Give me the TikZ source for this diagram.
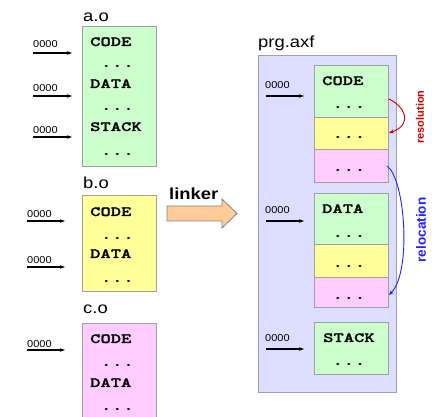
\documentclass[tikz,border=0pt]{standalone}
\usepackage{fontspec}
\usetikzlibrary{arrows.meta}

\newfontfamily\lblfont[FakeStretch=1.15]{Liberation Sans}
\newfontfamily\numfont[FakeStretch=1.1]{Liberation Sans}
\newfontfamily\codefont[FakeStretch=1.4, FakeBold=1.5]{lmmonolt10-bold.otf}
\newfontfamily\ellipsisfont[FakeStretch=1.4]{lmmonolt10-bold.otf}
\newfontfamily\tagfont{Liberation Sans}

\definecolor{segcode}{HTML}{CCFFCC}
\definecolor{segyel}{HTML}{FFFF99}
\definecolor{segpink}{HTML}{FFCCFF}
\definecolor{binlav}{HTML}{DDDDFF}
\definecolor{edgegray}{HTML}{A0A0A0}
\definecolor{linkfill}{HTML}{FFCC99}
\definecolor{resred}{HTML}{CC0000}
\definecolor{relblue}{HTML}{2222FF}

\tikzset{
  seg/.style={draw=edgegray, line width=0.8pt, inner sep=0pt, anchor=north west,
              minimum width=74pt},
  file/.style={font=\lblfont\fontsize{16}{18}\selectfont, anchor=base west, inner sep=0pt},
  sect/.style={font=\codefont\fontsize{14}{16}\selectfont, anchor=base west, inner sep=0pt},
  dotrow/.style={font=\ellipsisfont\fontsize{15}{16}\selectfont, anchor=base, inner sep=0pt},
  addr/.style={font=\numfont\fontsize{10}{11}\selectfont, anchor=base west, inner sep=0pt},
  ptr/.style={line width=1.1pt, -{Stealth[length=5pt,width=3.5pt]}},
  fix/.style={line width=0.9pt, -{Stealth[length=5pt,width=4pt]}},
}

\begin{document}
\begin{tikzpicture}[x=1pt, y=-1pt]
\useasboundingbox[fill=white] (0,0) rectangle (432,417);

% ---------- object file a.o ----------
\node[file] (lao) at (83,22) {a.o};
\node[seg, fill=segcode, minimum height=140pt] (ao) at (82,26) {};
\node[sect] (aocode) at (90,46) {CODE};
\node[dotrow] (aod1) at (117.5,68) {...};
\node[sect] (aodata) at (90,88) {DATA};
\node[dotrow] (aod2) at (117.5,111) {...};
\node[sect] (aostack) at (90,131) {STACK};
\node[dotrow] (aod3) at (117.5,156) {...};

\coordinate (a1s) at (33,53);  \coordinate (a1e) at (72,53);
\coordinate (a2s) at (33,96);  \coordinate (a2e) at (72,96);
\coordinate (a3s) at (33,137); \coordinate (a3e) at (72,137);
\node[addr] (a1n) at (33,48) {0000};
\node[addr] (a2n) at (33,92) {0000};
\node[addr] (a3n) at (33,134) {0000};
\draw[ptr] (a1s) -- (a1e);
\draw[ptr] (a2s) -- (a2e);
\draw[ptr] (a3s) -- (a3e);

% ---------- object file b.o ----------
\node[file] (lbo) at (83,189) {b.o};
\node[seg, fill=segyel, minimum height=96pt] (bo) at (82,195) {};
\node[sect] (bocode) at (90,216) {CODE};
\node[dotrow] (bod1) at (117.5,239.5) {...};
\node[sect] (bodata) at (90,258) {DATA};
\node[dotrow] (bod2) at (117.5,282.5) {...};

\coordinate (b1s) at (27,221); \coordinate (b1e) at (65,221);
\coordinate (b2s) at (27,267); \coordinate (b2e) at (65,267);
\node[addr] (b1n) at (27,218) {0000};
\node[addr] (b2n) at (27,264) {0000};
\draw[ptr] (b1s) -- (b1e);
\draw[ptr] (b2s) -- (b2e);

% ---------- object file c.o ----------
\node[file] (lco) at (83,314) {c.o};
\node[seg, fill=segpink, minimum height=102pt] (co) at (82,323) {};
\node[sect] (cocode) at (90,343) {CODE};
\node[dotrow] (cod1) at (117.5,366.5) {...};
\node[sect] (codata) at (90,387) {DATA};
\node[dotrow] (cod2) at (117.5,410.5) {...};

\coordinate (c1s) at (27,350); \coordinate (c1e) at (65,350);
\node[addr] (c1n) at (27,347.5) {0000};
\draw[ptr] (c1s) -- (c1e);

% ---------- linker arrow ----------
\node[font=\lblfont\bfseries\fontsize{16}{18}\selectfont, anchor=base west, inner sep=0pt]
  (linker) at (169,200) {linker};
\draw[draw=gray, line width=0.8pt, fill=linkfill, line join=miter]
  (167,206) -- (222,206) -- (222,199) -- (237,213.5) -- (222,228) -- (222,221)
  -- (167,221) -- cycle;

% ---------- linked executable prg.axf ----------
\node[file] (lprg) at (258,48) {prg.axf};
\node[draw=edgegray, line width=0.8pt, fill=binlav, inner sep=0pt, anchor=north west,
      minimum width=138pt, minimum height=337pt] (prg) at (258,55) {};

% code section
\node[seg, fill=segcode, minimum height=52pt] (pcode) at (314,65) {};
\node[seg, fill=segyel, minimum height=32pt] (pcodeb) at (314,117) {};
\node[seg, fill=segpink, minimum height=33pt] (pcodec) at (314,149) {};
\node[sect] (pcodet) at (322,85) {CODE};
\node[dotrow] (pcd1) at (349,108.5) {...};
\node[dotrow] (pcd2) at (349,138.5) {...};
\node[dotrow] (pcd3) at (349,171.5) {...};

% data section
\node[seg, fill=segcode, minimum height=51pt] (pdata) at (314,193) {};
\node[seg, fill=segyel, minimum height=33pt] (pdatab) at (314,244) {};
\node[seg, fill=segpink, minimum height=30pt] (pdatac) at (314,277) {};
\node[sect] (pdatat) at (322,213) {DATA};
\node[dotrow] (pdd1) at (349,237.5) {...};
\node[dotrow] (pdd2) at (349,267.5) {...};
\node[dotrow] (pdd3) at (349,299.5) {...};

% stack section
\node[seg, fill=segcode, minimum height=52pt] (pstack) at (314,322) {};
\node[sect] (pstackt) at (323,342) {STACK};
\node[dotrow] (psd1) at (349,365.5) {...};

\coordinate (p1s) at (266,96);  \coordinate (p1e) at (304,96);
\coordinate (p2s) at (266,221); \coordinate (p2e) at (304,221);
\coordinate (p3s) at (266,349); \coordinate (p3e) at (304,349);
\node[addr] (p1n) at (265,89) {0000};
\node[addr] (p2n) at (265,213.5) {0000};
\node[addr] (p3n) at (265,342) {0000};
\draw[ptr] (p1s) -- (p1e);
\draw[ptr] (p2s) -- (p2e);
\draw[ptr] (p3s) -- (p3e);

% ---------- symbol resolution and relocation ----------
\coordinate (rs) at (389,99);  \coordinate (re) at (389,133);
\coordinate (ls) at (387,166); \coordinate (le) at (389,295);
\draw[fix, resred] (rs) .. controls (404,106) and (414,124) .. (re);
\draw[fix, relblue] (ls) .. controls (405,178) and (412,272) .. (le);

\node[rotate=90, text=resred, font=\tagfont\bfseries\fontsize{11}{12}\selectfont, inner sep=0pt]
  (resol) at (420,117) {resolution};
\node[rotate=90, text=relblue, font=\tagfont\bfseries\fontsize{13.5}{15}\selectfont, inner sep=0pt]
  (reloc) at (421,230) {relocation};
\end{tikzpicture}
\end{document}
